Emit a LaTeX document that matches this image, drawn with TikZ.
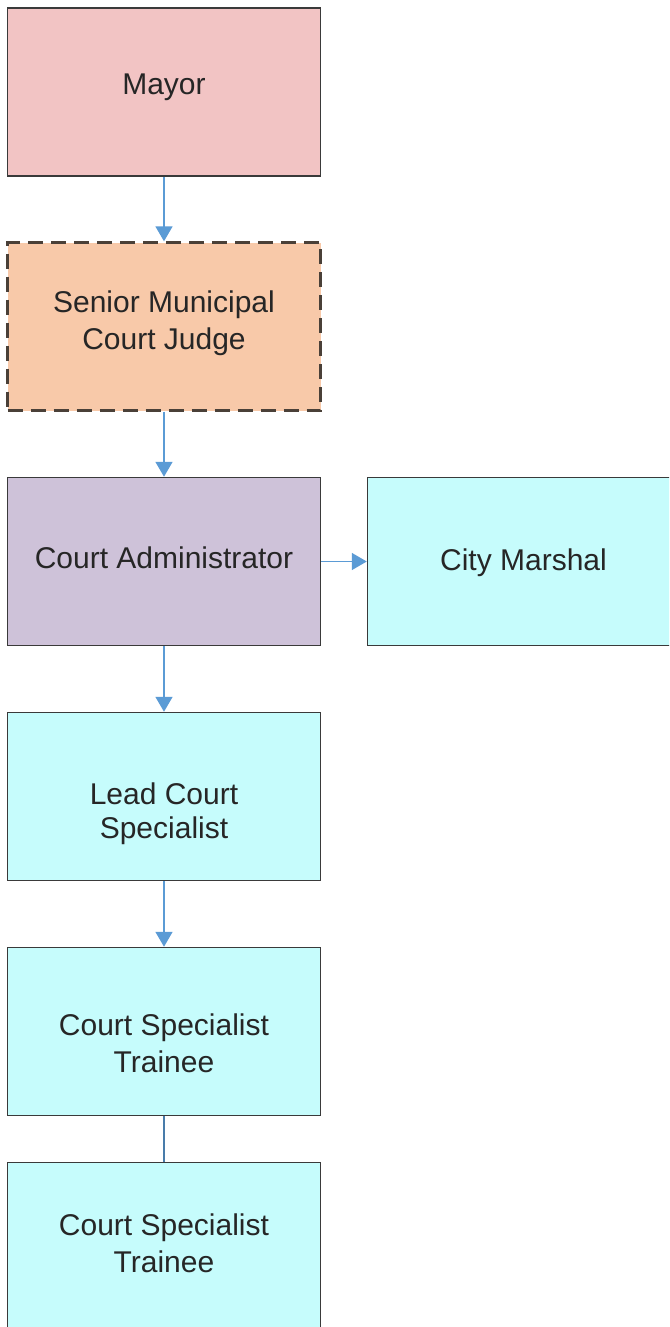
\documentclass[tikz,border=0pt]{standalone}
\usepackage{fontspec}
\setmainfont{Liberation Sans}
\usetikzlibrary{arrows.meta}
\definecolor{mayorfill}{HTML}{F2C4C4}
\definecolor{judgefill}{HTML}{F8C9A9}
\definecolor{adminfill}{HTML}{CEC2D9}
\definecolor{staffill}{HTML}{C6FCFC}
\definecolor{edgeblue}{HTML}{5B9BD5}
\definecolor{boxline}{HTML}{3A3A3A}
\definecolor{dashline}{HTML}{4A4038}
\definecolor{txt}{HTML}{262626}
\tikzset{
  orgbox/.style={rectangle, draw=boxline, line width=1.5pt, minimum width=313pt,
    minimum height=168pt, inner sep=0pt},
  boxtext/.style={align=center, text=txt, inner sep=0pt,
    font=\fontsize{30}{36.5}\selectfont},
  link/.style={draw=edgeblue, line width=1.6pt, -{Triangle[width=17pt,length=15pt]}},
  plainlink/.style={draw=edgeblue!80!black, line width=1.4pt}
}
\begin{document}
\begin{tikzpicture}[x=1pt,y=-1pt]
  \useasboundingbox (0,0) rectangle (669,1327);
  \clip (0,0) rectangle (669,1327);
  \fill[white] (0,0) rectangle (669,1327);

  \node[orgbox, fill=mayorfill,
        label={[boxtext, yshift=4.5pt]center:Mayor}] (mayor) at (164,92) {};
  \node[orgbox, fill=judgefill, draw=dashline, line width=2.4pt,
        dash pattern=on 15pt off 8pt,
        label={[boxtext, yshift=3.5pt]center:Senior Municipal\\Court Judge}] (judge) at (164,326.5) {};
  \node[orgbox, fill=adminfill,
        label={[boxtext, yshift=4pt]center:Court Administrator}] (admin) at (164,561.5) {};
  \node[orgbox, fill=staffill, minimum width=312pt,
        label={[boxtext, yshift=-1.5pt]center:City Marshal}] (marshal) at (523.5,561.5) {};
  \node[orgbox, fill=staffill,
        label={[boxtext, yshift=-17pt, font=\fontsize{30}{34}\selectfont]center:Lead Court\\Specialist}] (lead) at (164,796.5) {};
  \node[orgbox, fill=staffill,
        label={[boxtext, yshift=-12pt]center:Court Specialist\\Trainee}] (trainA) at (164,1031.5) {};
  \node[orgbox, fill=staffill,
        label={[boxtext, yshift=3pt]center:Court Specialist\\Trainee}] (trainB) at (164,1246.5) {};

  \draw[link] (mayor) -- (judge);
  \draw[link] (judge) -- (admin);
  \draw[link] (admin) -- (marshal);
  \draw[link] (admin) -- (lead);
  \draw[link] (lead) -- (trainA);
  \draw[plainlink] (trainA) -- (trainB);
\end{tikzpicture}
\end{document}
